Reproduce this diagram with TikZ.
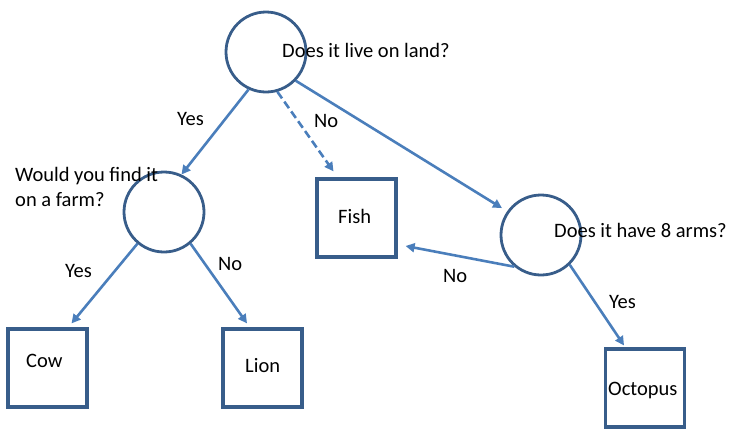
\documentclass[tikz,border=0pt]{standalone}
\usepackage{fontspec}
\setmainfont{Carlito}
\usetikzlibrary{arrows.meta}
\definecolor{shapeline}{HTML}{385D8A}
\definecolor{arrowline}{HTML}{4A7EBB}
\begin{document}
\begin{tikzpicture}[x=1pt,y=-1pt,
  qcircle/.style={draw=shapeline,line width=2.8pt,circle,minimum size=80pt,inner sep=0pt},
  abox/.style={draw=shapeline,line width=3.2pt,rectangle,minimum width=79pt,minimum height=78pt,inner sep=0pt},
  arr/.style={draw=arrowline,line width=2.6pt,-{Triangle[length=9pt,width=9pt]}},
  txt/.style={anchor=base west,inner sep=0pt,font=\fontsize{20.5}{25}\selectfont},
]
\useasboundingbox (0,0) rectangle (735,437);
% circles
\node[qcircle] (land) at (266,52) {};
\node[qcircle] (farm) at (164,212) {};
\node[qcircle] (arms) at (541,235) {};
% boxes
\node[abox] (fish) at (356.5,218) {};
\node[abox] (cow) at (47.5,368) {};
\node[abox] (lion) at (262.5,368) {};
\node[abox] (octo) at (645,388) {};
% question texts
\node[txt] (tland) at (282,57) {Does it live on land?};
\node[txt,align=left] (tfarm) at (15,206) {Would you find it\\on a farm?};
\node[txt] (tarms) at (554,237) {Does it have 8 arms?};
% box texts
\node[txt] (tfish) at (338,223) {Fish};
\node[txt] (tcow) at (26,367) {Cow};
\node[txt] (tlion) at (245,372) {Lion};
\node[txt] (tocto) at (608,395) {Octopus};
% connectors
\draw[arr] (land.-115) -- (farm.65);
\draw[arr,dashed,dash pattern=on 8pt off 4pt] (land.-74) -- ([xshift=-23pt,yshift=6pt]fish.north);
\draw[arr,shorten >=6pt] (land.-44) -- (arms.145);
\draw[arr] (farm.-130) -- ([xshift=24pt,yshift=4pt]cow.north);
\draw[arr] (farm.-50) -- ([xshift=-15.5pt,yshift=4pt]lion.north);
\draw[arr] (arms.-130) -- ([xshift=8pt,yshift=-28pt]fish.east);
\draw[arr] (arms.-46) -- ([xshift=-21pt,yshift=2pt]octo.north);
% labels
\node[txt] (l1) at (177,125) {Yes};
\node[txt] (l2) at (314,127) {No};
\node[txt] (l3) at (65,277) {Yes};
\node[txt] (l4) at (218,270) {No};
\node[txt] (l5) at (443,282) {No};
\node[txt] (l6) at (609,308) {Yes};
\end{tikzpicture}
\end{document}
